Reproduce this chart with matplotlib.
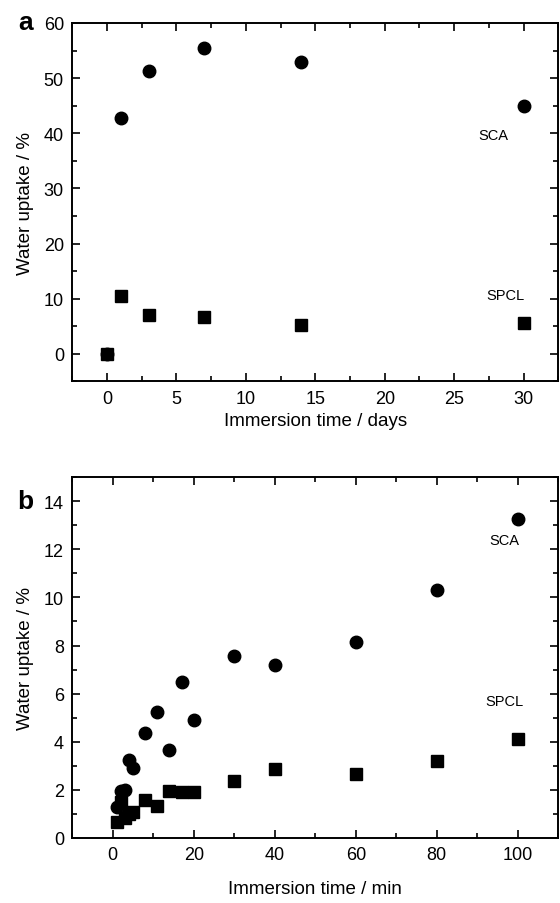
import numpy as np
import matplotlib.pyplot as plt
from matplotlib.ticker import MultipleLocator

plt.rcParams['font.family'] = ['Liberation Sans', 'DejaVu Sans']

# ---------------
# Data
# ---------------

# Panel a: immersion time in days
days = [0, 1, 3, 7, 14, 30]
sca_days = [0.0, 42.8, 51.3, 55.4, 53.0, 44.9]
spcl_days = [0.0, 10.4, 7.1, 6.6, 5.2, 5.6]

# Panel b: immersion time in minutes
minutes = [1, 2, 3, 4, 5, 8, 11, 14, 17, 20, 30, 40, 60, 80, 100]
sca_min = [1.27, 1.97, 2.0, 3.25, 2.91, 4.36, 5.25, 3.67, 6.47, 4.9,
           7.57, 7.2, 8.15, 10.3, 13.25]
spcl_min = [0.68, 1.51, 0.82, 1.0, 1.09, 1.59, 1.33, 1.95, 1.9, 1.9,
            2.38, 2.85, 2.65, 3.2, 4.1]

# ---------------
# Plot
# ---------------

fig = plt.figure(figsize=(5.6, 9.04), dpi=100)
ax_a = fig.add_axes([0.129, 0.577, 0.868, 0.3965])
ax_b = fig.add_axes([0.129, 0.072, 0.868, 0.399])


def style(ax):
    ax.tick_params(which='both', direction='in', top=True, right=True,
                   labelsize=13, width=1.2, pad=6)
    ax.tick_params(which='major', length=6)
    ax.tick_params(which='minor', length=3.5)
    for s in ax.spines.values():
        s.set_linewidth(1.4)
    ax.set_ylabel('Water uptake / %', fontsize=13.5, labelpad=7)


# panel a
ax_a.plot(days, sca_days, 'o', color='black', ms=9)
ax_a.plot(days, spcl_days, 's', color='black', ms=8)
ax_a.set_xlim(-2.5, 32.5)
ax_a.set_ylim(-5, 60)
ax_a.xaxis.set_major_locator(MultipleLocator(5))
ax_a.xaxis.set_minor_locator(MultipleLocator(2.5))
ax_a.yaxis.set_major_locator(MultipleLocator(10))
ax_a.yaxis.set_minor_locator(MultipleLocator(5))
style(ax_a)
ax_a.set_xlabel('Immersion time / days', fontsize=13.5, labelpad=4)
ax_a.text(27.8, 39.6, 'SCA', fontsize=10.5, ha='center', va='center')
ax_a.text(28.7, 10.6, 'SPCL', fontsize=10.5, ha='center', va='center')
fig.text(0.045, 0.975, 'a', fontsize=19, fontweight='bold', ha='center', va='center')

# panel b
ax_b.plot(minutes, sca_min, 'o', color='black', ms=9)
ax_b.plot(minutes, spcl_min, 's', color='black', ms=8)
ax_b.set_xlim(-10, 110)
ax_b.set_ylim(0, 15)
ax_b.xaxis.set_major_locator(MultipleLocator(20))
ax_b.xaxis.set_minor_locator(MultipleLocator(10))
ax_b.yaxis.set_major_locator(MultipleLocator(2))
ax_b.yaxis.set_minor_locator(MultipleLocator(1))
style(ax_b)
ax_b.set_xlabel('Immersion time / min', fontsize=13.5, labelpad=12)
ax_b.text(96.6, 12.4, 'SCA', fontsize=10.5, ha='center', va='center')
ax_b.text(96.8, 5.7, 'SPCL', fontsize=10.5, ha='center', va='center')
fig.text(0.045, 0.445, 'b', fontsize=19, fontweight='bold', ha='center', va='center')

plt.savefig('out.png', dpi=100)
